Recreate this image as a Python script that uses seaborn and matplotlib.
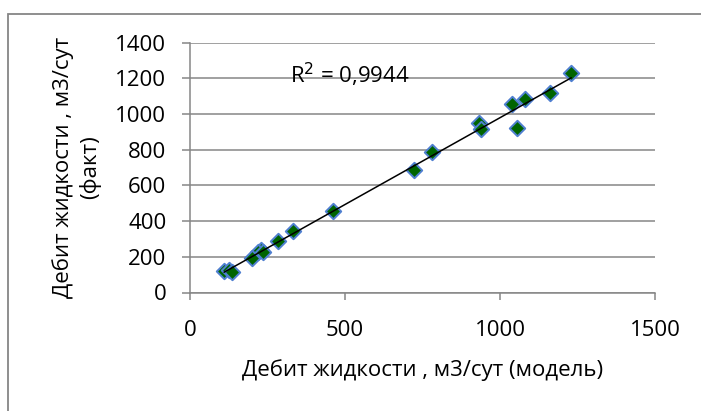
import matplotlib
matplotlib.use("Agg")
import matplotlib.pyplot as plt
import matplotlib.patches as mpatches
import numpy as np
import pandas as pd
import seaborn as sns

# Data
model = [1230, 1160, 1080, 1040, 1055, 933, 938, 782, 723, 460, 333, 285, 228, 218, 200, 235, 110, 125, 135]
fact = [1232, 1117, 1083, 1057, 921, 952, 915, 789, 688, 455, 345, 291, 237, 225, 196, 228, 119, 128, 113]
x_ticks = [0, 500, 1000, 1500]
y_ticks = [0, 200, 400, 600, 800, 1000, 1200, 1400]
r2_text = "R$^2$ = 0,9944"
x_label = "Дебит жидкости , м3/сут (модель)"
y_label = "Дебит жидкости , м3/сут\n(факт)"

df = pd.DataFrame({"model": model, "fact": fact})

sns.set_theme(style="white")
plt.rcParams["font.family"] = ["Open Sans", "DejaVu Sans"]
FS = 16
GRAY = "#868686"

fig = plt.figure(figsize=(7.01, 4.11), dpi=100)
ax = fig.add_axes([190 / 701, 1 - 292.5 / 411, (655 - 190) / 701, (292.5 - 42.7) / 411])

# chart-area border (only left and top edges visible in the reference)
border = mpatches.Rectangle((8 / 701, -0.5), 2.0, 1 - 13.5 / 411 + 0.5,
                            transform=fig.transFigure, fill=False,
                            edgecolor=GRAY, linewidth=1.3, clip_on=False)
fig.patches.append(border)

sns.regplot(data=df, x="model", y="fact", ax=ax, scatter=False, ci=None,
            truncate=True, line_kws=dict(color="black", linewidth=1.1, zorder=4))
sns.scatterplot(data=df, x="model", y="fact", ax=ax, marker="D", s=62,
                color="#006400", edgecolor="#4F7FD0", linewidth=1.4, zorder=3)

ax.set_xlim(0, 1500)
ax.set_ylim(0, 1400)
ax.set_xticks(x_ticks)
ax.set_yticks(y_ticks)
ax.set_xticklabels([str(v) for v in x_ticks])
ax.set_yticklabels([str(v) for v in y_ticks])

ax.yaxis.grid(True, color=GRAY, linewidth=1.1)
ax.xaxis.grid(False)
ax.set_axisbelow(True)
for side in ["top", "right"]:
    ax.spines[side].set_visible(False)
for side in ["left", "bottom"]:
    ax.spines[side].set_color(GRAY)
    ax.spines[side].set_linewidth(1.1)

ax.tick_params(axis="y", which="both", left=True, length=6, width=1.1, color=GRAY,
               pad=11, labelsize=FS, labelcolor="black", direction="out")
ax.tick_params(axis="x", which="both", bottom=True, length=5, width=1.1, color=GRAY,
               pad=15, labelsize=FS, labelcolor="black", direction="out")

ax.set_xlabel(x_label, fontsize=FS, color="black", labelpad=13)
ax.set_ylabel(y_label, fontsize=FS, color="black", labelpad=10, linespacing=1.35)

ax.text(323, 1220, r2_text, fontsize=FS, color="black", ha="left", va="center")

fig.savefig("out.png", dpi=100)
